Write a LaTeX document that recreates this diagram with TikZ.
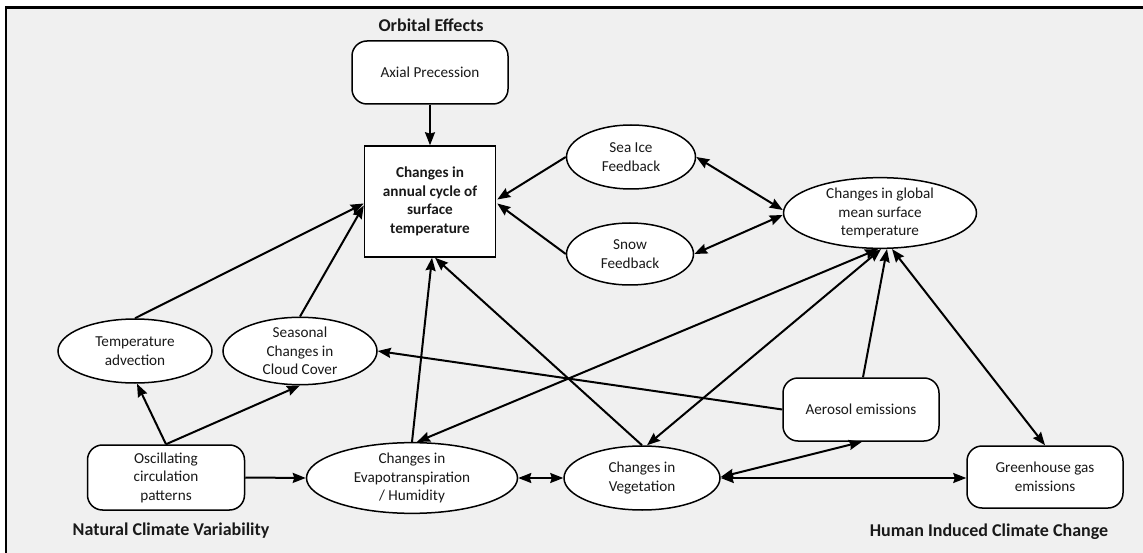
\documentclass[tikz,border=0pt]{standalone}
\usepackage{fontspec}
\setmainfont{Carlito}
\usetikzlibrary{shapes.geometric,arrows.meta,calc}
\definecolor{bg}{RGB}{240,240,240}
\definecolor{txt}{RGB}{25,25,25}
\begin{document}
\begin{tikzpicture}[x=1pt,y=-1pt,
  every node/.style={font=\fontsize{15.2}{18.5}\selectfont, align=center, text=txt},
  ell/.style={ellipse, draw, fill=white, line width=1.5pt, inner sep=0pt},
  rbox/.style={rectangle, rounded corners=15pt, draw, fill=white, line width=1.5pt, inner sep=0pt},
  sbox/.style={rectangle, draw, fill=white, line width=1.5pt, inner sep=0pt, font=\fontsize{15.2}{18.5}\selectfont\bfseries},
  lbl/.style={font=\fontsize{18}{22}\selectfont\bfseries},
  tip/.tip={Stealth[length=13pt,width=10pt,inset=1.5pt]},
  arr/.style={line width=2pt, -tip},
  barr/.style={line width=2pt, tip-tip},
]
\useasboundingbox (0,0) rectangle (1143,553);
\fill[white] (0,0) rectangle (1143,553);
\fill[bg] (6,7.5) rectangle (1143,553);
\draw[line width=2.5pt] (6,560) -- (6,7.5) -- (1150,7.5);

% nodes
\node[lbl] (orb) at (431,25) {Orbital Effects};
\node[rbox, minimum width=156pt, minimum height=63pt] (axial) at (430,72.5) {Axial Precession};
\node[sbox, minimum width=131pt, minimum height=111pt] (central) at (430,201.5) {Changes in\\annual cycle of\\surface\\temperature};
\node[ell, minimum width=129pt, minimum height=64pt] (seaice) at (631,157) {Sea Ice\\Feedback};
\node[ell, minimum width=127pt, minimum height=62pt] (snow) at (630,254) {Snow\\Feedback};
\node[ell, minimum width=193pt, minimum height=69pt] (gm) at (880,213) {Changes in global\\mean surface\\temperature};
\node[ell, minimum width=154pt, minimum height=64pt] (ta) at (135,351) {Temperature\\advection};
\node[ell, minimum width=154pt, minimum height=64pt] (cloud) at (300,351) {Seasonal\\Changes in\\Cloud Cover};
\node[rbox, minimum width=157pt, minimum height=65pt] (osc) at (166,477.5) {Oscillating\\circulation\\patterns};
\node[ell, minimum width=211pt, minimum height=67pt] (evap) at (412,478) {Changes in\\Evapotranspiration\\/ Humidity};
\node[ell, minimum width=156pt, minimum height=64pt] (veg) at (642,478) {Changes in\\Vegetation};
\node[rbox, minimum width=156pt, minimum height=63pt] (aer) at (861,409.5) {Aerosol emissions};
\node[rbox, minimum width=156pt, minimum height=62pt] (ghg) at (1045,477) {Greenhouse gas\\emissions};
\node[lbl] (ncv) at (171,531) {Natural Climate Variability};
\node[lbl] (hicc) at (989,532) {Human Induced Climate Change};

% connectors
\draw[arr] (axial) -- (central);
\draw[arr] (seaice.west) -- ($(central.east)+(1,-2)$);
\draw[arr] (snow.west) -- ($(central.east)+(1,2)$);
\draw[barr] (seaice.east) -- ($(gm.west)+(0,-3)$);
\draw[barr] (snow.east) -- ($(gm.west)+(0,2)$);
\draw[arr] (ta.north) -- ($(central.west)+(0,2)$);
\draw[arr] (cloud.north) -- ($(central.west)+(0,4)$);
\draw[arr] (osc.north) -- ($(ta.south)+(2,0)$);
\draw[arr] (osc.north) -- (cloud.south);
\draw[arr] (osc.east) -- (evap.west);
\draw[arr] (evap.north) -- ($(central.south)+(2,0)$);
\draw[arr] (veg.north) -- ($(central.south)+(5,0)$);
\draw[barr] (evap.east) -- (veg.west);
\draw[barr] ($(evap.north)+(5,0)$) -- ($(gm.south)+(-2,0)$);
\draw[barr] ($(veg.north)+(5,0)$) -- ($(gm.south)+(1,0)$);
\draw[arr] ($(aer.north)+(2,0)$) -- ($(gm.south)+(7,0)$);
\draw[barr] (ghg.north) -- ($(gm.south)+(12,0)$);
\draw[arr] (aer.west) -- (cloud.east);
\draw[barr] ($(veg.east)+(0,-1)$) -- ($(aer.south)+(1,0)$);
\draw[barr] (veg.east) -- (veg.east -| ghg.west);
\end{tikzpicture}
\end{document}
